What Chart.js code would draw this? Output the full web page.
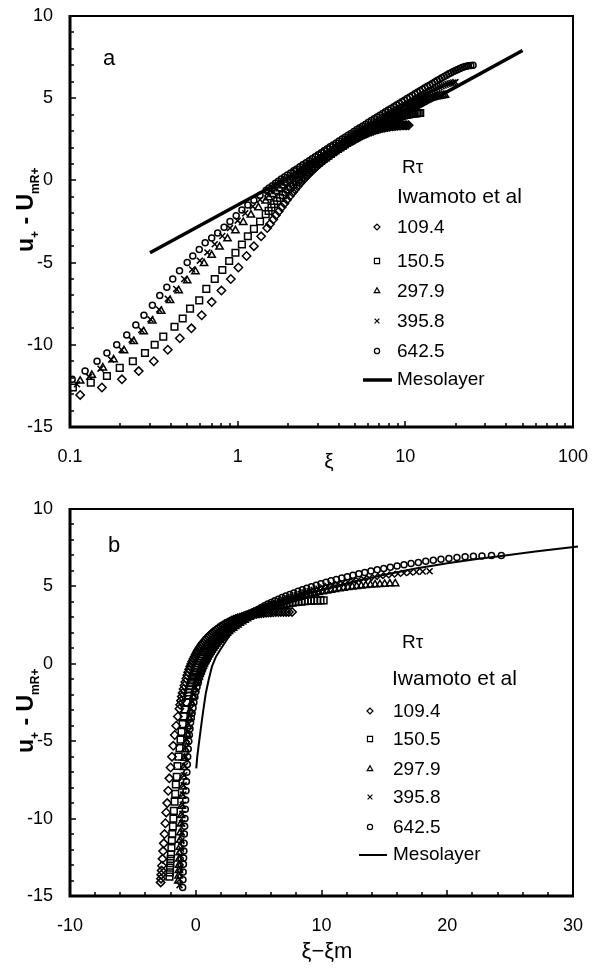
<!DOCTYPE html>
<html>
<head>
<meta charset="utf-8">
<title>Mesolayer velocity profiles</title>
<script src="https://cdn.jsdelivr.net/npm/chart.js@4.4.1/dist/chart.umd.min.js"></script>
<style>
  html, body { margin: 0; padding: 0; background: #fff; }
  #wrap { position: relative; width: 598px; height: 970px; overflow: hidden; }
  canvas { position: absolute; left: 0; }
  #chartA { top: 0; }
  #chartB { top: 485px; }
</style>
</head>
<body>
<div id="wrap">
  <canvas id="chartA" width="598" height="485"></canvas>
  <canvas id="chartB" width="598" height="485"></canvas>
</div>
<script>
const FONT = '"Liberation Sans", Arial, Helvetica, sans-serif';

// R_tau of the Iwamoto et al runs, one marker each
const RE_TAU = ['109.4', '150.5', '297.9', '395.8', '642.5'];
const POINT_STYLES = ['rectRot', 'rect', 'triangle', 'crossRot', 'circle'];
const POINT_SIZES = [4.2, 4.7, 4.2, 4.2, 3];
const LEGEND_SIZES = [3, 3.6, 3.2, 3.4, 2.6];

// xi_m of each run (panel b plots xi - xi_m)
const XI_M = [2.8, 2.1, 1.4, 1.3, 1.05];

// [xi, u+ - UmR+]; points below xi = 0.1 only show up in panel b
const RUN_109 = [
  [0.012, -14.12], [0.035, -13.88], [0.06, -13.62], [0.085, -13.36], [0.115, -13.05], [0.155, -12.6],
  [0.204, -12.1], [0.257, -11.6], [0.316, -11.0], [0.383, -10.3], [0.452, -9.6], [0.53, -9.0],
  [0.61, -8.2], [0.70, -7.4], [0.80, -6.7], [0.91, -6.0], [1.01, -5.3], [1.13, -4.6],
  [1.25, -4.0], [1.38, -3.4], [1.5, -2.9], [1.56, -2.65], [1.63, -2.38], [1.69, -2.12],
  [1.76, -1.88], [1.83, -1.63], [1.9, -1.4], [1.97, -1.17], [2.05, -0.95], [2.13, -0.74],
  [2.2, -0.55], [2.28, -0.36], [2.36, -0.18], [2.44, -0.01], [2.52, 0.15], [2.61, 0.31],
  [2.7, 0.46], [2.79, 0.6], [2.88, 0.74], [2.97, 0.87], [3.07, 1.0], [3.17, 1.12],
  [3.27, 1.24], [3.37, 1.35], [3.48, 1.46], [3.59, 1.56], [3.7, 1.66], [3.81, 1.76],
  [3.93, 1.85], [4.05, 1.94], [4.17, 2.03], [4.3, 2.11], [4.42, 2.19], [4.55, 2.27],
  [4.68, 2.34], [4.81, 2.41], [4.95, 2.48], [5.09, 2.55], [5.23, 2.61], [5.37, 2.67],
  [5.52, 2.73], [5.67, 2.79], [5.82, 2.84], [5.97, 2.89], [6.13, 2.94], [6.29, 2.98],
  [6.45, 3.02], [6.61, 3.06], [6.78, 3.1], [6.95, 3.13], [7.12, 3.16], [7.29, 3.19],
  [7.47, 3.21], [7.65, 3.23], [7.83, 3.25], [8.01, 3.27], [8.2, 3.29], [8.39, 3.3],
  [8.58, 3.31], [8.77, 3.32], [8.97, 3.33], [9.17, 3.34], [9.37, 3.34], [9.57, 3.35],
  [9.78, 3.35], [9.99, 3.35], [10.2, 3.35], [10.46, 3.35]
];
const RUN_150 = [
  [0.012, -13.75], [0.035, -13.47], [0.06, -13.17], [0.083, -12.88], [0.104, -12.6], [0.133, -12.3],
  [0.166, -11.9], [0.198, -11.4], [0.237, -11.0], [0.28, -10.5], [0.32, -10.0], [0.36, -9.5],
  [0.42, -8.9], [0.47, -8.4], [0.52, -7.8], [0.59, -7.3], [0.65, -6.6], [0.73, -6.0],
  [0.81, -5.45], [0.89, -4.9], [0.97, -4.4], [1.06, -3.9], [1.15, -3.4], [1.25, -2.95],
  [1.36, -2.5], [1.47, -2.05], [1.53, -1.85], [1.59, -1.65], [1.65, -1.45], [1.72, -1.25],
  [1.79, -1.07], [1.86, -0.9], [1.93, -0.72], [2.0, -0.55], [2.07, -0.4], [2.15, -0.25],
  [2.23, -0.1], [2.31, 0.05], [2.39, 0.2], [2.48, 0.35], [2.57, 0.48], [2.66, 0.6],
  [2.75, 0.73], [2.85, 0.85], [2.95, 0.98], [3.05, 1.1], [3.15, 1.2], [3.26, 1.3],
  [3.37, 1.4], [3.48, 1.5], [3.6, 1.61], [3.72, 1.72], [3.84, 1.82], [3.97, 1.92],
  [4.1, 2.01], [4.23, 2.1], [4.36, 2.19], [4.5, 2.28], [4.64, 2.37], [4.79, 2.45],
  [4.94, 2.54], [5.09, 2.62], [5.24, 2.7], [5.4, 2.78], [5.56, 2.85], [5.73, 2.92],
  [5.9, 2.99], [6.07, 3.06], [6.25, 3.13], [6.43, 3.2], [6.61, 3.26], [6.8, 3.32],
  [6.99, 3.38], [7.19, 3.44], [7.39, 3.5], [7.59, 3.55], [7.79, 3.6], [8.0, 3.65],
  [8.21, 3.7], [8.43, 3.74], [8.65, 3.78], [8.87, 3.82], [9.1, 3.86], [9.33, 3.89],
  [9.56, 3.92], [9.8, 3.95], [10.04, 3.98], [10.28, 4.0], [10.52, 4.02], [10.77, 4.04],
  [11.02, 4.06], [11.27, 4.07], [11.52, 4.08], [11.77, 4.09], [12.02, 4.1], [12.27, 4.1]
];
const RUN_298 = [
  [0.01, -14.03], [0.03, -13.7], [0.05, -13.35], [0.07, -13.0], [0.09, -12.6], [0.115, -12.2],
  [0.135, -11.85], [0.157, -11.4], [0.182, -10.9], [0.21, -10.35], [0.24, -9.8], [0.275, -9.2],
  [0.31, -8.55], [0.35, -7.95], [0.395, -7.3], [0.445, -6.7], [0.5, -6.1], [0.56, -5.55],
  [0.63, -5.05], [0.7, -4.55], [0.78, -4.05], [0.87, -3.55], [0.97, -3.05], [1.08, -2.55],
  [1.2, -2.1], [1.33, -1.65], [1.47, -1.25], [1.54, -1.05], [1.62, -0.85], [1.7, -0.67],
  [1.78, -0.5], [1.86, -0.32], [1.95, -0.15], [2.04, 0.0], [2.13, 0.15], [2.23, 0.3],
  [2.33, 0.45], [2.44, 0.6], [2.55, 0.75], [2.66, 0.89], [2.78, 1.02], [2.9, 1.15],
  [3.03, 1.28], [3.16, 1.41], [3.3, 1.53], [3.44, 1.65], [3.58, 1.76], [3.73, 1.87],
  [3.88, 1.98], [4.04, 2.09], [4.2, 2.2], [4.37, 2.31], [4.54, 2.41], [4.72, 2.52],
  [4.9, 2.62], [5.09, 2.72], [5.28, 2.82], [5.48, 2.92], [5.68, 3.01], [5.89, 3.11],
  [6.1, 3.2], [6.32, 3.29], [6.55, 3.38], [6.78, 3.47], [7.02, 3.56], [7.26, 3.64],
  [7.51, 3.72], [7.76, 3.8], [8.02, 3.88], [8.28, 3.96], [8.55, 4.03], [8.82, 4.1],
  [9.1, 4.17], [9.38, 4.24], [9.67, 4.3], [9.96, 4.37], [10.26, 4.43], [10.56, 4.49],
  [10.87, 4.55], [11.18, 4.61], [11.5, 4.66], [11.82, 4.71], [12.15, 4.76], [12.48, 4.81],
  [12.82, 4.85], [13.16, 4.89], [13.5, 4.93], [13.85, 4.97], [14.2, 5.0], [14.56, 5.03],
  [14.92, 5.06], [15.29, 5.09], [15.66, 5.11], [16.04, 5.13], [16.42, 5.15], [16.84, 5.17],
  [17.26, 5.18]
];
const RUN_396 = [
  [0.01, -14.3], [0.03, -13.92], [0.05, -13.55], [0.07, -13.18], [0.09, -12.8], [0.11, -12.4],
  [0.13, -11.95], [0.152, -11.45], [0.176, -10.9], [0.203, -10.3], [0.233, -9.7], [0.266, -9.1],
  [0.302, -8.45], [0.34, -7.85], [0.383, -7.2], [0.43, -6.6], [0.48, -6.0], [0.535, -5.42],
  [0.595, -4.88], [0.66, -4.38], [0.73, -3.88], [0.81, -3.38], [0.9, -2.9], [1.0, -2.45],
  [1.11, -2.0], [1.23, -1.58], [1.36, -1.18], [1.5, -0.8], [1.57, -0.62], [1.65, -0.45],
  [1.73, -0.28], [1.82, -0.12], [1.91, 0.04], [2.0, 0.2], [2.1, 0.35], [2.2, 0.5],
  [2.31, 0.65], [2.42, 0.8], [2.54, 0.94], [2.66, 1.08], [2.79, 1.22], [2.92, 1.35],
  [3.06, 1.48], [3.2, 1.6], [3.35, 1.73], [3.5, 1.85], [3.66, 1.98], [3.83, 2.1],
  [4.0, 2.22], [4.18, 2.33], [4.37, 2.45], [4.56, 2.56], [4.76, 2.68], [4.97, 2.79],
  [5.19, 2.9], [5.41, 3.01], [5.64, 3.12], [5.88, 3.23], [6.13, 3.34], [6.38, 3.44],
  [6.64, 3.55], [6.91, 3.65], [7.19, 3.75], [7.47, 3.85], [7.76, 3.95], [8.06, 4.05],
  [8.37, 4.15], [8.68, 4.24], [9.0, 4.33], [9.33, 4.42], [9.66, 4.51], [10.0, 4.6],
  [10.35, 4.69], [10.7, 4.77], [11.06, 4.85], [11.43, 4.93], [11.81, 5.01], [12.19, 5.08],
  [12.58, 5.15], [12.98, 5.22], [13.39, 5.29], [13.8, 5.36], [14.22, 5.43], [14.65, 5.49],
  [15.09, 5.55], [15.53, 5.61], [15.98, 5.67], [16.44, 5.72], [16.91, 5.77], [17.38, 5.82],
  [17.86, 5.86], [18.35, 5.9], [18.85, 5.93], [19.35, 5.96], [19.9, 5.98]
];
const RUN_643 = [
  [0.01, -14.45], [0.03, -13.95], [0.05, -13.45], [0.07, -12.95], [0.085, -12.55], [0.103, -12.1],
  [0.123, -11.6], [0.145, -11.0], [0.166, -10.5], [0.19, -10.0], [0.218, -9.4], [0.247, -8.8],
  [0.276, -8.2], [0.31, -7.6], [0.343, -7.0], [0.378, -6.5], [0.41, -6.0], [0.45, -5.5],
  [0.5, -5.0], [0.54, -4.6], [0.59, -4.2], [0.64, -3.8], [0.7, -3.5], [0.76, -3.2],
  [0.83, -2.85], [0.9, -2.5], [0.98, -2.15], [1.06, -1.8], [1.15, -1.5], [1.25, -1.2],
  [1.36, -0.9], [1.48, -0.6], [1.54, -0.46], [1.61, -0.32], [1.68, -0.18], [1.75, -0.05],
  [1.82, 0.08], [1.9, 0.2], [1.98, 0.33], [2.07, 0.45], [2.16, 0.58], [2.25, 0.7],
  [2.35, 0.83], [2.45, 0.95], [2.56, 1.08], [2.67, 1.2], [2.78, 1.32], [2.9, 1.44],
  [3.02, 1.56], [3.15, 1.68], [3.28, 1.8], [3.42, 1.92], [3.56, 2.04], [3.71, 2.16],
  [3.87, 2.28], [4.03, 2.4], [4.2, 2.52], [4.37, 2.63], [4.55, 2.75], [4.74, 2.86],
  [4.94, 2.98], [5.14, 3.09], [5.35, 3.2], [5.57, 3.31], [5.8, 3.42], [6.03, 3.53],
  [6.27, 3.64], [6.52, 3.75], [6.78, 3.86], [7.05, 3.96], [7.33, 4.07], [7.61, 4.17],
  [7.91, 4.28], [8.21, 4.38], [8.53, 4.48], [8.85, 4.58], [9.19, 4.68], [9.53, 4.78],
  [9.88, 4.88], [10.25, 4.98], [10.63, 5.08], [11.01, 5.17], [11.41, 5.27], [11.81, 5.36],
  [12.23, 5.45], [12.66, 5.54], [13.1, 5.63], [13.55, 5.72], [14.02, 5.81], [14.49, 5.9],
  [14.98, 5.99], [15.48, 6.07], [16.0, 6.16], [16.52, 6.24], [17.06, 6.32], [17.61, 6.4],
  [18.17, 6.48], [18.75, 6.55], [19.34, 6.62], [19.94, 6.69], [20.55, 6.75], [21.18, 6.81],
  [21.82, 6.86], [22.47, 6.91], [23.13, 6.95], [23.81, 6.97], [24.57, 6.99], [25.35, 7.0]
];
const RUNS = [RUN_109, RUN_150, RUN_298, RUN_396, RUN_643];

// mesolayer curves
const MESO_A = [[0.3, -4.4], [1, -1.5], [10, 4.0], [50, 7.9]];
const MESO_B = [
  [0.04, -6.75], [0.12, -6.0], [0.24, -5.2], [0.4, -4.2], [0.58, -3.1], [0.8, -1.9],
  [1.05, -0.95], [1.3, -0.15], [1.6, 0.45], [2.0, 0.97], [3, 2.2], [4, 2.9],
  [5, 3.35], [6.5, 3.85], [8, 4.3], [10, 4.75], [12.5, 5.3], [15, 5.75],
  [17.5, 6.15], [20, 6.5], [22.5, 6.78], [24.3, 6.97], [27, 7.25], [30.4, 7.57]
];

const X_TICKS_A = [0.1, 1, 10, 100];
const X_TICKS_B = [-10, 0, 10, 20, 30];
const Y_TICKS = [-15, -10, -5, 0, 5, 10];

function range(a, b, step) {
  const out = [];
  for (let v = a; v <= b + 1e-9; v += step) out.push(+v.toFixed(6));
  return out;
}

function logMinor() {
  const out = [];
  [0.1, 1, 10].forEach(d => {
    for (let k = 1; k <= 9; k++) out.push(+(k * d).toFixed(6));
  });
  out.push(100);
  return out;
}

function drawMarker(ctx, style, r, x, y) {
  ctx.save();
  ctx.strokeStyle = '#000';
  ctx.fillStyle = 'rgba(0,0,0,0)';
  ctx.lineWidth = 1.2;
  Chart.helpers.drawPoint(ctx, { pointStyle: style, radius: r, borderWidth: 1.2, rotation: 0 }, x, y);
  ctx.restore();
}

function drawYTitle(ctx, x, y) {
  ctx.save();
  ctx.translate(x, y);
  ctx.rotate(-Math.PI / 2);
  ctx.textAlign = 'left';
  ctx.textBaseline = 'alphabetic';
  const parts = [['u', 23, 0], ['+', 12, 6], [' - ', 23, 0], ['U', 23, 0], ['mR+', 12, 6]];
  let pos = 0;
  parts.forEach(([t, size, dy]) => {
    ctx.font = `bold ${size}px ${FONT}`;
    ctx.fillText(t, pos, dy);
    pos += ctx.measureText(t).width;
  });
  ctx.restore();
}

function drawLegend(ctx, L) {
  ctx.textAlign = 'left';
  ctx.font = `19px ${FONT}`;
  ctx.fillText('Rτ', L.rtX, L.rtY);
  ctx.font = `21px ${FONT}`;
  ctx.fillText('Iwamoto et al', L.iwX, L.iwY);
  ctx.font = `19px ${FONT}`;
  RE_TAU.forEach((label, i) => {
    ctx.fillText(label, L.textX, L.rows[i]);
    drawMarker(ctx, POINT_STYLES[i], LEGEND_SIZES[i], L.markX, L.rows[i] - 6);
  });
  const mb = L.rows[5];
  ctx.fillText('Mesolayer', L.textX, mb);
  ctx.save();
  ctx.strokeStyle = '#000';
  ctx.lineWidth = L.lineW;
  ctx.beginPath();
  ctx.moveTo(L.lineX0, mb - 5);
  ctx.lineTo(L.lineX1, mb - 5);
  ctx.stroke();
  ctx.restore();
}

// inward tick marks and the box round the plot
const frameTicks = {
  id: 'frameTicks',
  afterDatasetsDraw(chart, args, opts) {
    const { ctx, chartArea: a } = chart;
    const xs = chart.scales.x, ys = chart.scales.y;
    ctx.save();
    ctx.strokeStyle = '#000';
    ctx.lineWidth = 1.5;
    ctx.beginPath();
    opts.yMinor.forEach(v => {
      const py = Math.round(ys.getPixelForValue(v));
      const len = opts.yMajor.includes(v) ? 6 : 4;
      ctx.moveTo(a.left, py);
      ctx.lineTo(a.left + len, py);
    });
    opts.xMinor.forEach(v => {
      const px = Math.round(xs.getPixelForValue(v));
      const len = opts.xMajor.includes(v) ? 6 : 4;
      ctx.moveTo(px, a.bottom);
      ctx.lineTo(px, a.bottom - len);
    });
    ctx.stroke();
    ctx.lineWidth = 2;
    ctx.strokeRect(a.left, a.top, a.right - a.left, a.bottom - a.top);
    ctx.lineWidth = 3;
    ctx.beginPath();
    ctx.moveTo(a.left, a.top - 1);
    ctx.lineTo(a.left, a.bottom);
    ctx.lineTo(a.right + 1, a.bottom);
    ctx.stroke();
    ctx.restore();
  }
};

const panelText = {
  id: 'panelText',
  afterDraw(chart, args, o) {
    const ctx = chart.ctx;
    ctx.save();
    ctx.fillStyle = '#000';
    ctx.textBaseline = 'alphabetic';
    ctx.textAlign = 'left';
    ctx.font = `22px ${FONT}`;
    ctx.fillText(o.letter, o.letterX, o.letterY);
    ctx.textAlign = 'center';
    ctx.font = `${o.xTitleSize}px ${FONT}`;
    ctx.fillText(o.xTitle, o.xTitleX, o.xTitleY);
    drawYTitle(ctx, o.yTitleX, o.yTitleY);
    drawLegend(ctx, o.legend);
    ctx.restore();
  }
};

function runDatasets(shifted) {
  return RUNS.map((run, i) => ({
    label: RE_TAU[i],
    data: run.map(([xi, u]) => ({ x: shifted ? +(xi - XI_M[i]).toFixed(4) : xi, y: u })),
    showLine: false,
    pointStyle: POINT_STYLES[i],
    pointRadius: POINT_SIZES[i],
    pointBorderColor: '#000',
    pointBackgroundColor: 'rgba(0,0,0,0)',
    pointBorderWidth: 1.5
  }));
}

function mesoDataset(points, width, clip) {
  return {
    label: 'Mesolayer',
    data: points.map(([x, y]) => ({ x, y })),
    showLine: true,
    pointRadius: 0,
    borderColor: '#000',
    borderWidth: width,
    tension: 0,
    clip: clip
  };
}

function tickFont() {
  return { color: '#000', font: { family: FONT, size: 18 }, maxRotation: 0, autoSkip: false, callback: v => String(v) };
}

function yScale() {
  return {
    type: 'linear',
    min: -15,
    max: 10,
    afterBuildTicks: s => { s.ticks = Y_TICKS.map(v => ({ value: v })); },
    afterFit: s => { s.width = 70; s.paddingTop = 0; s.paddingBottom = 0; },
    grid: { display: false, drawTicks: false },
    border: { display: false },
    ticks: { ...tickFont(), padding: 17 }
  };
}

Chart.defaults.font.family = FONT;
Chart.defaults.color = '#000';

const commonOpts = {
  responsive: false,
  animation: false,
  events: [],
  plugins: { legend: { display: false }, tooltip: { enabled: false } }
};

new Chart(document.getElementById('chartA'), {
  type: 'scatter',
  data: { datasets: [mesoDataset(MESO_A, 3.5, undefined), ...runDatasets(false)] },
  options: {
    ...commonOpts,
    layout: { padding: { left: 0, right: 25, top: 16, bottom: 0 } },
    scales: {
      x: {
        type: 'logarithmic',
        min: 0.1,
        max: 100,
        afterBuildTicks: s => { s.ticks = X_TICKS_A.map(v => ({ value: v })); },
        afterFit: s => { s.height = 58; s.paddingLeft = 0; s.paddingRight = 0; },
        grid: { display: false, drawTicks: false },
        border: { display: false },
        ticks: { ...tickFont(), padding: 19 }
      },
      y: yScale()
    },
    plugins: {
      ...commonOpts.plugins,
      frameTicks: { yMinor: range(-15, 10, 1), yMajor: Y_TICKS, xMinor: logMinor(), xMajor: X_TICKS_A },
      panelText: {
        letter: 'a', letterX: 103, letterY: 65,
        xTitle: 'ξ', xTitleSize: 21, xTitleX: 329, xTitleY: 468,
        yTitleX: 33, yTitleY: 252,
        legend: {
          rtX: 402, rtY: 173, iwX: 397, iwY: 203, textX: 397, markX: 377,
          rows: [233, 267, 297, 327, 357, 385],
          lineX0: 363, lineX1: 392, lineW: 3.5
        }
      }
    }
  },
  plugins: [frameTicks, panelText]
});

new Chart(document.getElementById('chartB'), {
  type: 'scatter',
  data: { datasets: [mesoDataset(MESO_B, 2, false), ...runDatasets(true)] },
  options: {
    ...commonOpts,
    layout: { padding: { left: 0, right: 25, top: 24, bottom: 0 } },
    scales: {
      x: {
        type: 'linear',
        min: -10,
        max: 30,
        afterBuildTicks: s => { s.ticks = X_TICKS_B.map(v => ({ value: v })); },
        afterFit: s => { s.height = 74; s.paddingLeft = 0; s.paddingRight = 0; },
        grid: { display: false, drawTicks: false },
        border: { display: false },
        ticks: { ...tickFont(), padding: 19 }
      },
      y: yScale()
    },
    plugins: {
      ...commonOpts.plugins,
      frameTicks: { yMinor: range(-15, 10, 1), yMajor: Y_TICKS, xMinor: range(-10, 30, 2), xMajor: X_TICKS_B },
      panelText: {
        letter: 'b', letterX: 108, letterY: 67,
        xTitle: 'ξ−ξm', xTitleSize: 22, xTitleX: 327, xTitleY: 473,
        yTitleX: 33, yTitleY: 268,
        legend: {
          rtX: 402, rtY: 163, iwX: 392, iwY: 200, textX: 393, markX: 370,
          rows: [232, 260, 290, 318, 348, 375],
          lineX0: 359, lineX1: 387, lineW: 2
        }
      }
    }
  },
  plugins: [frameTicks, panelText]
});
</script>
</body>
</html>
